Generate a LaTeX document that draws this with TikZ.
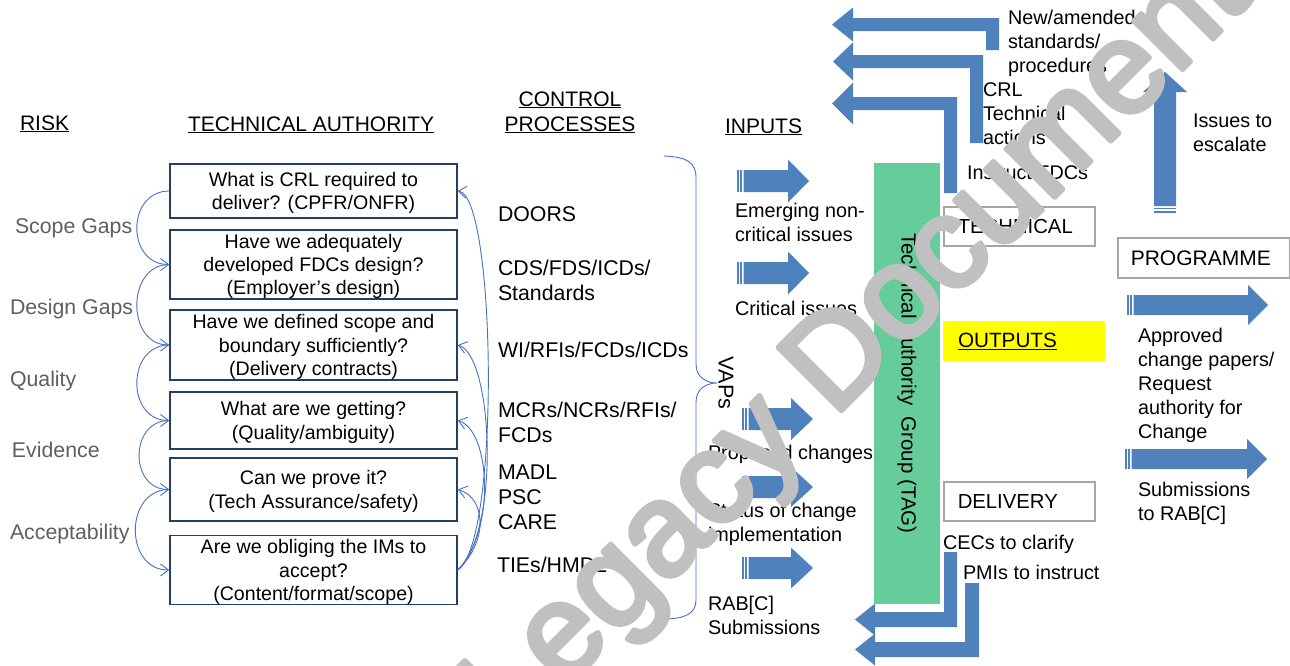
\documentclass[tikz,border=0pt]{standalone}
\usepackage{fontspec}
\setmainfont{Liberation Sans}
\usetikzlibrary{arrows.meta}
\definecolor{arrowblue}{HTML}{4F81BD}
\definecolor{linkblue}{HTML}{4472C4}
\definecolor{navy}{HTML}{243F60}
\definecolor{boxgray}{HTML}{A6A6A6}
\definecolor{riskgray}{HTML}{5F5F5F}
\definecolor{tagreen}{HTML}{66CC99}
\definecolor{wmgray}{HTML}{C0C0C0}
\definecolor{outyellow}{HTML}{FFFF00}
\newcommand{\tstr}{\rule[-0.21em]{0pt}{1.14em}}
% striped right block arrow: tail x, head base x, tip x, centre y, shaft half, head half
\newcommand{\rarrow}[6]{%
  \fill[arrowblue] (#1,#4-#5) rectangle (#1+1.8,#4+#5);
  \fill[arrowblue] (#1+3.3,#4-#5) rectangle (#1+5,#4+#5);
  \fill[arrowblue] (#1+6.5,#4-#5) -- (#2,#4-#5) -- (#2,#4-#6) -- (#3,#4) -- (#2,#4+#6) -- (#2,#4+#5) -- (#1+6.5,#4+#5) -- cycle;}
\begin{document}
\begin{tikzpicture}[x=1pt,y=-1pt,
  base/.style={inner sep=0pt, outer sep=0pt},
  t20/.style={base, font=\fontsize{19.8}{24}\selectfont, align=left, anchor=west},
  t21/.style={base, font=\fontsize{21.3}{25}\selectfont, align=left, anchor=west},
  risk/.style={t21, text=riskgray},
  hdr/.style={base, font=\fontsize{21}{25}\selectfont, anchor=base west},
  qbox/.style={draw=navy, line width=1.6pt, minimum width=287pt, align=center,
    font=\fontsize{19.6}{23.2}\selectfont, inner sep=0pt},
  gbox/.style={draw=boxgray, line width=1.5pt, anchor=north west, align=left,
    font=\fontsize{20.3}{24}\selectfont, inner ysep=0pt},
  link/.style={draw=linkblue, line width=0.9pt, -{Straight Barb[length=8pt,width=12pt]}},
  blk/.style={fill=arrowblue, draw=none}]
\useasboundingbox (0,0) rectangle (1290,665);
\fill[white] (0,0) rectangle (1290,665);

% ---------------- headers
\node[hdr] (hRisk) at (20,130) {\underline{RISK}};
\node[hdr] (hTA) at (188,131) {\underline{TECHNICAL AUTHORITY}};
\node[hdr, anchor=base] (hCP1) at (570,106) {\underline{CONTROL}};
\node[hdr, anchor=base] (hCP2) at (570,131) {\underline{PROCESSES}};
\node[hdr] (hIn) at (725,133) {\underline{INPUTS}};

% ---------------- risk labels
\node[risk] (r1) at (15,226) {\tstr Scope Gaps};
\node[risk] (r2) at (10,307) {\tstr Design Gaps};
\node[risk] (r3) at (10,379) {\tstr Quality};
\node[risk] (r4) at (12,450) {\tstr Evidence};
\node[risk] (r5) at (10,532) {\tstr Acceptability};

% ---------------- technical authority boxes
\node[qbox, minimum height=54pt] (b1) at (313.5,191) {\tstr What is CRL required to\\\tstr deliver? (CPFR/ONFR)};
\node[qbox, minimum height=67pt] (b2) at (313.5,264.5) {\tstr Have we adequately\\\tstr developed FDCs design?\\\tstr (Employer’s design)};
\node[qbox, minimum height=70pt] (b3) at (313.5,345) {\tstr Have we defined scope and\\\tstr boundary sufficiently?\\\tstr (Delivery contracts)};
\node[qbox, minimum height=57pt] (b4) at (313.5,420.5) {\tstr What are we getting?\\\tstr (Quality/ambiguity)};
\node[qbox, minimum height=63pt] (b5) at (313.5,489.5) {\tstr Can we prove it?\\\tstr (Tech Assurance/safety)};
\node[qbox, minimum height=68pt] (b6) at (313.5,570) {\tstr Are we obliging the IMs to\\\tstr accept?\\\tstr (Content/format/scope)};

% left curved links
\draw[link] (b1.west) .. controls +(-43,0) and +(-43,0) .. (b2.west);
\draw[link] (b2.west) .. controls +(-43,0) and +(-43,0) .. (b3.west);
\draw[link] (b3.west) .. controls +(-43,0) and +(-43,0) .. (b4.west);
\draw[link] (b4.west) .. controls +(-40,0) and +(-40,0) .. (b5.west);
\draw[link] (b5.west) .. controls +(-45,0) and +(-45,0) .. (b6.west);

% right curved links
\draw[link] (b6.east) .. controls +(43,-29) and +(38,5) .. (b1.east);
\draw[link] (b6.east) .. controls +(43,-39) and +(35,10) .. (b3.east);
\draw[link] (b6.east) .. controls +(38,-39) and +(33,10) .. (b4.east);
\draw[link] (b6.east) .. controls +(31,-29) and +(28,8) .. (b5.east);

% ---------------- control processes
\node[t21] (c1) at (498,214) {\tstr DOORS};
\node[t21] (c2) at (498,280) {\tstr CDS/FDS/ICDs/\\\tstr Standards};
\node[t21] (c3) at (498,350) {\tstr WI/RFIs/FCDs/ICDs};
\node[t21] (c4) at (498,422) {\tstr MCRs/NCRs/RFIs/\\\tstr FCDs};
\node[t21] (c5) at (498,497) {\tstr MADL\\\tstr PSC\\\tstr CARE};
\node[t21] (c6) at (497,565) {\tstr TIEs/HMDL};

% brace
\draw[linkblue, line width=0.9pt]
  (664,156) .. controls (688,157) and (696,163) .. (696,178)
  -- (696,364) .. controls (696,377) and (706,383) .. (717,383)
  .. controls (706,383) and (696,389) .. (696,402)
  -- (696,600) .. controls (696,613) and (686,619) .. (663,619);
\node[base, rotate=-90, font=\fontsize{21.5}{25}\selectfont] (vaps) at (726,383) {VAPs};

% ---------------- inputs
\rarrow{737}{788}{809}{181}{11}{21.5}
\rarrow{737}{788}{809}{273}{11}{21.5}
\rarrow{742}{791}{813}{419}{11}{21}
\rarrow{742}{791}{813}{487}{11}{20}
\rarrow{742}{791}{813}{568}{11}{20.5}
\node[t20] (i1) at (735,222) {\tstr Emerging non-\\\tstr critical issues};
\node[t20] (i2) at (735,308) {\tstr Critical issues};
\node[t20] (i3) at (708,452) {\tstr Proposed changes};
\node[t20] (i4) at (708,522) {\tstr Status of change\\\tstr implementation};
\node[t20] (i5) at (708,615.5) {\tstr RAB[C]\\\tstr Submissions};

% ---------------- TAG bar
\node[base, fill=tagreen, minimum width=66pt, minimum height=441pt] (tag) at (907,383.5) {};
\node[base, rotate=-90, font=\fontsize{20.5}{24}\selectfont] (taglbl) at (tag.center) {Technical Authority~ Group (TAG)};

% ---------------- top elbow arrows
\fill[blk] (832,24.5) -- (853,7.5) -- (853,18) -- (999,18) -- (999,50) -- (986,50) -- (986,31) -- (853,31) -- (853,41.5) -- cycle;
\fill[blk] (833,61.5) -- (853,42.5) -- (853,55) -- (983,55) -- (983,143) -- (970,143) -- (970,68) -- (853,68) -- (853,80.5) -- cycle;
\fill[blk] (832,103.5) -- (853,82.5) -- (853,97) -- (957,97) -- (957,193) -- (944,193) -- (944,110) -- (853,110) -- (853,124.5) -- cycle;
\node[t20] (o1) at (1008,41.5) {\tstr New/amended\\\tstr standards/\\\tstr procedures};
\node[t20] (o2) at (983,113.5) {\tstr CRL\\\tstr Technical\\\tstr actions};
\node[t20] (o3) at (967,172) {\tstr Instruct FDCs};

% up arrow
\fill[blk] (1154,92) -- (1143,92) -- (1165,72) -- (1187,92) -- (1176,92) -- (1176,206) -- (1154,206) -- cycle;
\fill[blk] (1154,207.5) rectangle (1176,209);
\fill[blk] (1154,210.5) rectangle (1176,213);
\node[t20] (esc) at (1193,132.5) {\tstr Issues to\\\tstr escalate};

% ---------------- right boxes
\node[gbox, minimum height=39pt, text width=123pt, inner xsep=14pt] (tech) at (943,206) {\tstr TECHNICAL};
\node[gbox, minimum height=40pt, text width=146pt, inner xsep=13pt, font=\fontsize{21}{24}\selectfont] (prog) at (1117,237) {\tstr PROGRAMME};
\node[base, anchor=north west, fill=outyellow, minimum height=40pt, text width=132pt, inner xsep=15pt, align=left,
  font=\fontsize{20.7}{24}\selectfont] (outp) at (943,321) {\underline{OUTPUTS}};
\node[gbox, minimum height=39pt, text width=123pt, inner xsep=14pt] (deliv) at (943,481) {\tstr DELIVERY};

% programme arrows
\rarrow{1127}{1248}{1268}{305}{10}{20}
\rarrow{1125}{1247}{1267}{459}{10}{20}
\node[t20] (p1) at (1138,383.5) {\tstr Approved\\\tstr change papers/\\\tstr Request\\\tstr authority for\\\tstr Change};
\node[t20] (p2) at (1138,501.5) {\tstr Submissions\\\tstr to RAB[C]};

% delivery elbow arrows
\fill[blk] (855,619.5) -- (875,603.5) -- (875,612) -- (944,612) -- (944,552) -- (957,552) -- (957,627) -- (875,627) -- (875,635.5) -- cycle;
\fill[blk] (855,649.5) -- (875,633.5) -- (875,642) -- (965,642) -- (965,583) -- (979,583) -- (979,657) -- (875,657) -- (875,665.5) -- cycle;
\node[t20] (d1) at (943,542) {\tstr CECs to clarify};
\node[t20] (d2) at (963,572) {\tstr PMIs to instruct};

% ---------------- watermark (regular letters, thickened outline)
\node[base, rotate=45, anchor=base west, text=wmgray, font=\fontsize{130}{130}\selectfont] (wm) at (512,740)
  {\special{pdf:literal direct 2 Tr 5 w 1 j}Legacy Document\special{pdf:literal direct 0 Tr 1 w}};
\end{tikzpicture}
\end{document}
